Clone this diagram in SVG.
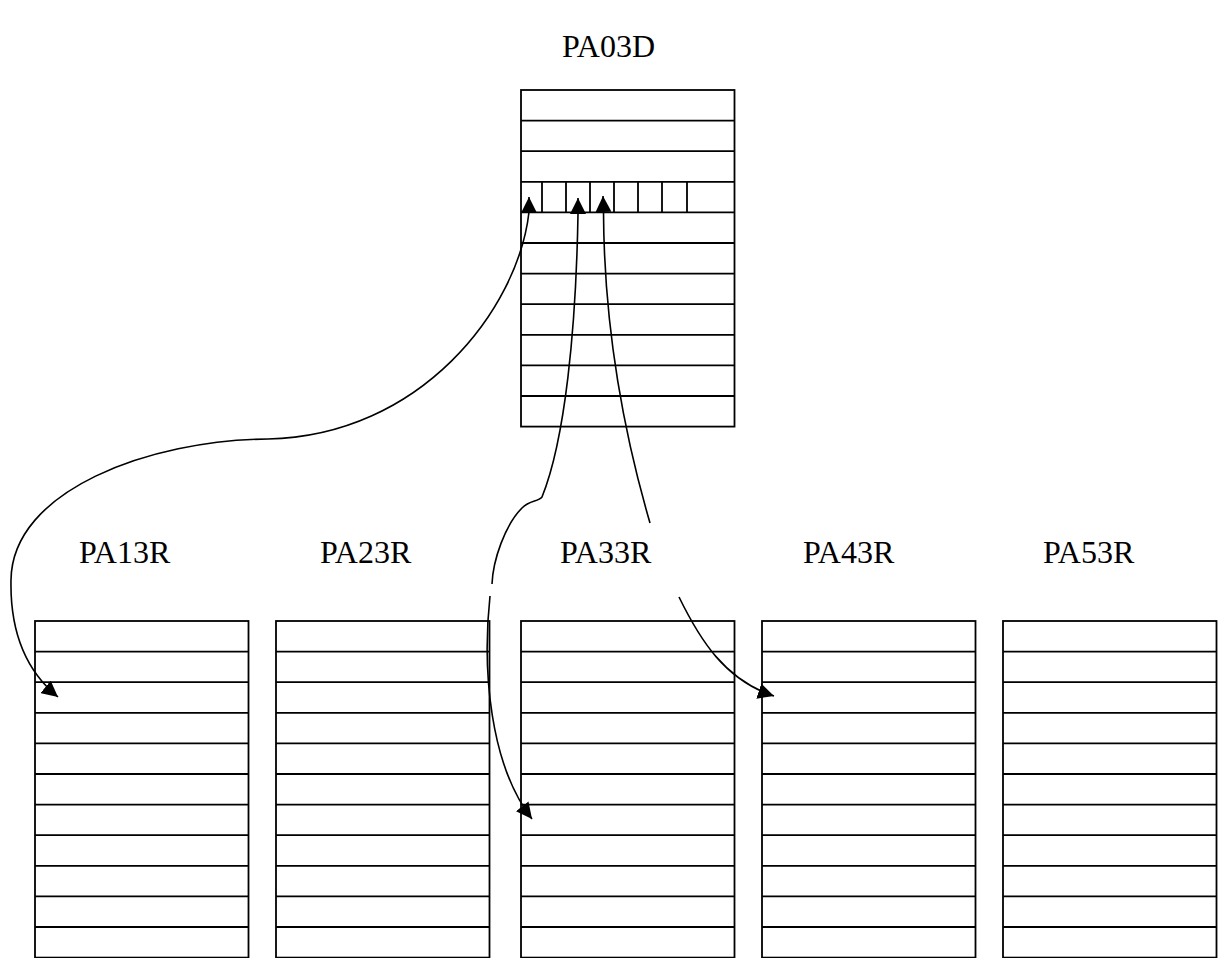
<svg xmlns="http://www.w3.org/2000/svg" xmlns:xlink="http://www.w3.org/1999/xlink" width="1220" height="958" viewBox="0 0 1220 958">
<style>
.box{fill:#fff;stroke:#000;stroke-width:1.8}
.rule{fill:none;stroke:#000;stroke-width:1.8}
.conn{fill:none;stroke:#000;stroke-width:1.6}
.lbl{font-family:"Liberation Serif","Times New Roman",serif;font-size:32px;fill:#000}
</style>
<defs>
<marker id="ah" markerUnits="userSpaceOnUse" markerWidth="16" markerHeight="16" viewBox="0 0 14 14" refX="14" refY="7" orient="auto-start-reverse">
<path d="M0,0 L14,7 L0,14 z" fill="#000"/>
</marker>
<g id="table">
<rect class="box" x="0" y="0" width="213.5" height="336.6"/>
<path class="rule" d="M0,30.6 h213.5 M0,61.2 h213.5 M0,91.8 h213.5 M0,122.4 h213.5 M0,153 h213.5 M0,183.6 h213.5 M0,214.2 h213.5 M0,244.8 h213.5 M0,275.4 h213.5 M0,306 h213.5"/>
</g>
</defs>
<rect width="1220" height="958" fill="#fff"/>
<g id="PA03D">
<use xlink:href="#table" x="521" y="90"/>
<path class="rule" d="M542,181.8 v30.6 M566,181.8 v30.6 M590,181.8 v30.6 M614,181.8 v30.6 M638,181.8 v30.6 M662,181.8 v30.6 M687,181.8 v30.6"/>
<text class="lbl" x="562" y="57">PA03D</text>
</g>
<g id="PA13R">
<use xlink:href="#table" x="35" y="621"/>
<text class="lbl" x="79" y="563">PA13R</text>
</g>
<g id="PA23R">
<use xlink:href="#table" x="276" y="621"/>
<text class="lbl" x="320" y="563">PA23R</text>
</g>
<g id="PA33R">
<use xlink:href="#table" x="521" y="621"/>
<text class="lbl" x="560" y="563">PA33R</text>
</g>
<g id="PA43R">
<use xlink:href="#table" x="762" y="621"/>
<text class="lbl" x="803" y="563">PA43R</text>
</g>
<g id="PA53R">
<use xlink:href="#table" x="1003" y="621"/>
<text class="lbl" x="1043" y="563">PA53R</text>
</g>
<g id="connectors">
<path class="conn" marker-start="url(#ah)" marker-end="url(#ah)" d="M529,197 L529,212 C518,310 420,436 268,439 C150,440 12,490 11,580 C10,630 25,670 58,697"/>
<path class="conn" marker-start="url(#ah)" d="M578,198 L578,214 C576,330 565,440 542,497 C538,502 530,500 522,508 C505,525 493,560 492,584"/>
<path class="conn" marker-end="url(#ah)" d="M490,596 C482,670 490,765 532,819"/>
<path class="conn" marker-end="url(#ah)" d="M650,523 C620,420 604,320 603.5,212 L603,196"/>
<path class="conn" marker-end="url(#ah)" d="M679,597 C700,640 725,680 774,696"/>
</g>
</svg>
